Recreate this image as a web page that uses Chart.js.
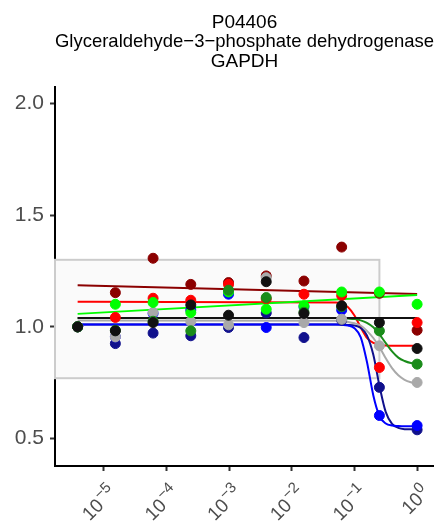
<!DOCTYPE html>
<html>
<head>
<meta charset="utf-8">
<script src="https://cdn.jsdelivr.net/npm/chart.js@4/dist/chart.umd.min.js"></script>
<style>
  body { margin: 0; background: #fff; }
</style>
</head>
<body>
<canvas id="chart" width="434" height="526"></canvas>
<script>
// doses (ascending) and measured ratios per series
const doses = [3.815e-6, 1.526e-5, 6.104e-5, 2.441e-4, 9.766e-4, 3.906e-3, 0.015625, 0.0625, 0.25, 1];

const darkredValues = [1.0, 1.153, 1.307, 1.19, 1.198, 1.228, 1.205, 1.357, 1.15, 0.985];
const redValues     = [1.0, 1.042, 1.128, 1.119, 1.19, 1.125, 1.146, 1.14, 0.818, 1.019];
const navyValues    = [1.0, 0.925, 0.972, 0.96, 0.997, 1.062, 0.952, 1.03, 0.729, 0.539];
const blueValues    = [1.0, 0.955, 1.06, 1.075, 1.146, 0.997, 1.09, 1.075, 0.603, 0.558];
const grayValues    = [1.0, 0.955, 1.064, 1.024, 1.009, 1.22, 1.019, 1.034, 0.915, 0.751];
const limeValues    = [1.0, 1.101, 1.109, 1.064, 1.156, 1.079, 1.094, 1.156, 1.156, 1.101];
const greenValues   = [1.0, 0.985, 1.025, 0.982, 1.164, 1.131, 1.065, 1.09, 0.982, 0.833];
const blackValues   = [1.0, 0.982, 1.019, 1.098, 1.052, 1.202, 1.06, 1.094, 1.019, 0.903];

// fitted curves
const lineDoses = [3.815e-6, 1];
const darkredFit = [1.186, 1.147];
const limeFit    = [1.058, 1.143];
const blackFit   = [1.04, 1.04];

const curveDoses = [3.815e-6, 0.05, 0.063, 0.079, 0.1, 0.126, 0.158, 0.2, 0.251, 0.316, 0.398, 0.501, 0.631, 0.794, 1];
const redFit   = [1.112, 1.109, 1.104, 1.088, 1.051, 0.997, 0.951, 0.928, 0.919, 0.916, 0.915, 0.915, 0.915, 0.915, 0.915];
const greenFit = [1.04, 1.039, 1.038, 1.037, 1.035, 1.029, 1.018, 0.998, 0.966, 0.927, 0.890, 0.862, 0.847, 0.838, 0.834];
const grayFit  = [1.028, 1.027, 1.025, 1.022, 1.016, 1.006, 0.982, 0.950, 0.909, 0.859, 0.815, 0.783, 0.763, 0.752, 0.746];
const blueFit  = [1.01, 1.01, 1.009, 1.006, 0.994, 0.953, 0.844, 0.693, 0.600, 0.567, 0.558, 0.556, 0.555, 0.555, 0.555];
const navyFit  = [1.01, 1.01, 1.01, 1.008, 1.006, 0.995, 0.962, 0.875, 0.735, 0.618, 0.566, 0.548, 0.542, 0.541, 0.54];

const xTicks = [1e-5, 1e-4, 1e-3, 1e-2, 1e-1, 1];
const xTickExponents = ['\u22125', '\u22124', '\u22123', '\u22122', '\u22121', '0'];
const yTicks = [0.5, 1.0, 1.5, 2.0];

const boxDoseMax = 0.25;
const boxRange = [0.77, 1.3];

const titleLines = ['P04406', 'Glyceraldehyde\u22123\u2212phosphate dehydrogenase', 'GAPDH'];

const colors = {
  darkred: '#8b0000', red: '#ff0000', navy: '#10108c', blue: '#0000ff',
  gray: '#a9a9a9', lime: '#00ff00', green: '#1a8c1a', black: '#111111'
};

const FONT = '"Liberation Sans", Arial, sans-serif';

function pts(xs, ys) {
  return xs.map((x, i) => ({ x: x, y: ys[i] }));
}

const series = [
  ['black', blackValues, lineDoses, blackFit],
  ['green', greenValues, curveDoses, greenFit],
  ['lime', limeValues, lineDoses, limeFit],
  ['gray', grayValues, curveDoses, grayFit],
  ['blue', blueValues, curveDoses, blueFit],
  ['navy', navyValues, curveDoses, navyFit],
  ['red', redValues, curveDoses, redFit],
  ['darkred', darkredValues, lineDoses, darkredFit]
];

const datasets = [];
series.forEach((s, i) => {
  const c = colors[s[0]];
  datasets.push({
    type: 'scatter',
    data: pts(doses, s[1]),
    backgroundColor: c,
    borderColor: c,
    pointRadius: 5,
    pointBorderWidth: 1,
    order: i + 1
  });
  datasets.push({
    type: 'line',
    data: pts(s[2], s[3]),
    borderColor: c,
    borderWidth: 2,
    pointRadius: 0,
    fill: false,
    cubicInterpolationMode: 'monotone',
    order: 20 + i
  });
});

const boxPlugin = {
  id: 'box',
  beforeDatasetsDraw(chart) {
    const { ctx, chartArea, scales } = chart;
    const left = chartArea.left;
    const right = scales.x.getPixelForValue(boxDoseMax);
    const top = scales.y.getPixelForValue(boxRange[1]);
    const bottom = scales.y.getPixelForValue(boxRange[0]);
    ctx.save();
    ctx.fillStyle = 'rgba(0,0,0,0.02)';
    ctx.fillRect(left, top, right - left, bottom - top);
    ctx.strokeStyle = '#cccccc';
    ctx.lineWidth = 2;
    ctx.strokeRect(left, top, right - left, bottom - top);
    ctx.restore();
  }
};

// x tick labels "10" with a raised exponent, rotated 45 degrees
const powerLabels = {
  id: 'powerLabels',
  afterDraw(chart) {
    const { ctx, scales } = chart;
    const x = scales.x;
    ctx.save();
    ctx.fillStyle = '#4d4d4d';
    ctx.textAlign = 'right';
    ctx.textBaseline = 'middle';
    xTicks.forEach((v, i) => {
      const px = x.getPixelForValue(v);
      ctx.save();
      ctx.translate(px + 10, x.top + 24);
      ctx.rotate(-Math.PI / 4);
      ctx.font = '15px ' + FONT;
      const ew = ctx.measureText(xTickExponents[i]).width;
      ctx.fillText(xTickExponents[i], 0, -7);
      ctx.font = '19px ' + FONT;
      ctx.fillText('10', -ew - 1, 0);
      ctx.restore();
    });
    ctx.restore();
  }
};

Chart.defaults.font.family = FONT;

new Chart(document.getElementById('chart'), {
  type: 'scatter',
  data: { datasets: datasets },
  plugins: [boxPlugin, powerLabels],
  options: {
    responsive: false,
    animation: false,
    events: [],
    layout: { padding: 0, autoPadding: false },
    plugins: {
      legend: { display: false },
      tooltip: { enabled: false },
      title: {
        display: true,
        text: titleLines,
        color: '#000',
        fullSize: false,
        font: { size: 19, weight: 'normal', lineHeight: 1.02 },
        padding: { top: 13, bottom: 16 }
      }
    },
    scales: {
      x: {
        type: 'logarithmic',
        min: 1.66e-6,
        max: 1.86,
        afterBuildTicks: (scale) => { scale.ticks = xTicks.map(v => ({ value: v })); },
        afterFit: (scale) => { scale.height = 60; scale.paddingLeft = 0; scale.paddingRight = 0; },
        border: { display: true, color: '#000', width: 2 },
        grid: { drawOnChartArea: false, drawTicks: true, tickLength: 5, tickColor: '#333', tickWidth: 2 },
        ticks: { display: false }
      },
      y: {
        min: 0.377,
        max: 2.073,
        afterBuildTicks: (scale) => { scale.ticks = yTicks.map(v => ({ value: v })); },
        afterFit: (scale) => { scale.width = 55; scale.paddingTop = 0; scale.paddingBottom = 0; },
        border: { display: true, color: '#000', width: 2 },
        grid: { drawOnChartArea: false, drawTicks: true, tickLength: 5, tickColor: '#333', tickWidth: 2 },
        ticks: {
          padding: 6,
          color: '#4d4d4d',
          font: { size: 21 },
          callback: (v) => v.toFixed(1)
        }
      }
    }
  }
});
</script>
</body>
</html>
